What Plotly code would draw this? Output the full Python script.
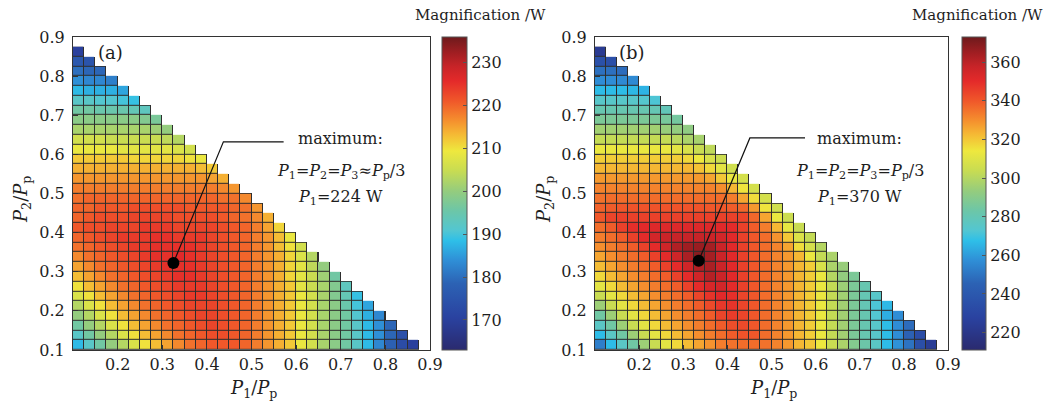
import plotly.graph_objects as go

# Cell centres (P/Pp) of the 0.025-wide grid along both axes
p_centers = [0.1125, 0.1375, 0.1625, 0.1875, 0.2125, 0.2375, 0.2625, 0.2875,
             0.3125, 0.3375, 0.3625, 0.3875, 0.4125, 0.4375, 0.4625, 0.4875,
             0.5125, 0.5375, 0.5625, 0.5875, 0.6125, 0.6375, 0.6625, 0.6875,
             0.7125, 0.7375, 0.7625, 0.7875, 0.8125, 0.8375, 0.8625]

x_ticks = [0.2, 0.3, 0.4, 0.5, 0.6, 0.7, 0.8, 0.9]
y_ticks = [0.1, 0.2, 0.3, 0.4, 0.5, 0.6, 0.7, 0.8, 0.9]

# Magnification (W), one list per P2 row (bottom to top), starting at P1 = 0.1125
mag_a = [
    [188, 192, 196, 200, 203, 207, 210, 213, 215, 217, 219, 220, 221, 221, 221, 220, 218, 216, 214, 212, 209, 206, 202, 199, 196, 192, 188, 183, 178, 173, 170],
    [192, 196, 200, 203, 207, 210, 213, 215, 217, 219, 220, 221, 222, 222, 221, 220, 218, 216, 214, 212, 209, 206, 202, 199, 196, 192, 188, 184, 179, 174],
    [196, 200, 203, 207, 210, 213, 215, 217, 219, 220, 221, 222, 223, 222, 221, 220, 218, 216, 214, 212, 209, 206, 202, 199, 196, 192, 188, 184, 179],
    [200, 203, 207, 210, 213, 215, 217, 219, 220, 221, 222, 223, 223, 222, 221, 220, 218, 216, 214, 212, 209, 206, 202, 199, 196, 191, 187, 183],
    [203, 207, 210, 213, 215, 217, 219, 220, 221, 222, 223, 223, 223, 222, 221, 220, 218, 216, 214, 212, 209, 206, 202, 199, 195, 190, 186],
    [207, 210, 213, 215, 217, 219, 220, 221, 222, 223, 224, 224, 223, 222, 221, 220, 218, 216, 214, 212, 209, 206, 202, 198, 194, 189],
    [210, 213, 215, 217, 219, 220, 221, 222, 223, 224, 224, 224, 223, 222, 221, 220, 218, 216, 214, 212, 208, 205, 202, 198, 193],
    [213, 215, 217, 219, 220, 221, 222, 223, 224, 225, 225, 224, 223, 222, 221, 220, 218, 216, 214, 211, 208, 205, 201, 196],
    [215, 217, 219, 220, 221, 222, 223, 224, 225, 225, 225, 224, 223, 222, 221, 220, 218, 216, 214, 211, 208, 204, 200],
    [217, 219, 220, 221, 222, 223, 224, 225, 225, 226, 225, 224, 223, 222, 221, 220, 218, 216, 214, 211, 207, 203],
    [219, 220, 221, 222, 223, 224, 224, 225, 225, 225, 225, 224, 223, 222, 221, 220, 218, 216, 213, 210, 206],
    [220, 221, 222, 223, 224, 224, 224, 225, 225, 224, 224, 224, 223, 222, 221, 220, 218, 216, 213, 209],
    [221, 222, 222, 223, 223, 223, 224, 224, 224, 223, 223, 223, 223, 222, 221, 220, 218, 215, 211],
    [220, 221, 222, 222, 222, 223, 223, 223, 223, 222, 222, 222, 222, 221, 220, 219, 217, 214],
    [220, 220, 221, 221, 221, 222, 222, 222, 222, 222, 221, 221, 221, 221, 220, 219, 216],
    [219, 220, 220, 220, 220, 220, 220, 220, 220, 220, 220, 220, 220, 219, 219, 217],
    [218, 218, 218, 218, 218, 218, 218, 218, 218, 218, 218, 218, 218, 217, 216],
    [216, 216, 216, 216, 216, 216, 216, 216, 216, 216, 216, 216, 215, 214],
    [214, 214, 214, 214, 214, 214, 214, 214, 214, 214, 214, 213, 212],
    [212, 212, 212, 212, 212, 211, 211, 211, 211, 211, 210, 209],
    [209, 209, 209, 209, 208, 208, 208, 208, 208, 207, 206],
    [206, 206, 206, 205, 205, 205, 205, 205, 204, 203],
    [202, 202, 202, 202, 202, 202, 202, 201, 200],
    [199, 199, 199, 199, 199, 199, 198, 197],
    [196, 196, 195, 195, 195, 194, 193],
    [192, 192, 191, 191, 190, 189],
    [188, 187, 187, 187, 186],
    [184, 183, 183, 182],
    [180, 179, 179],
    [176, 175],
    [170],
]

mag_b = [
    [253, 267, 276, 284, 295, 304, 311, 317, 322, 326, 329, 333, 335, 336, 336, 335, 332, 328, 323, 320, 314, 304, 298, 289, 283, 276, 267, 258, 250, 235, 224],
    [267, 276, 284, 295, 304, 311, 317, 322, 326, 330, 333, 336, 339, 341, 340, 336, 332, 328, 323, 319, 313, 303, 296, 287, 281, 275, 267, 257, 245, 234],
    [276, 284, 295, 304, 311, 317, 322, 326, 330, 333, 336, 339, 342, 343, 340, 336, 332, 328, 323, 319, 313, 303, 296, 287, 281, 275, 267, 257, 248],
    [284, 295, 304, 311, 317, 322, 326, 330, 333, 336, 339, 344, 346, 344, 340, 336, 332, 328, 323, 319, 313, 303, 296, 287, 281, 273, 264, 257],
    [295, 304, 311, 317, 322, 326, 330, 333, 336, 339, 343, 347, 348, 344, 340, 336, 332, 328, 323, 319, 313, 303, 296, 287, 280, 272, 266],
    [304, 311, 317, 322, 326, 330, 333, 336, 339, 344, 348, 351, 349, 344, 340, 336, 332, 328, 323, 319, 313, 303, 296, 287, 280, 275],
    [311, 317, 322, 326, 330, 333, 336, 339, 345, 350, 354, 355, 350, 345, 340, 336, 332, 328, 323, 319, 313, 303, 295, 287, 281],
    [317, 322, 326, 330, 333, 336, 339, 345, 350, 356, 361, 357, 351, 345, 340, 336, 332, 328, 323, 319, 313, 300, 293, 287],
    [322, 326, 330, 333, 336, 339, 345, 350, 356, 362, 363, 357, 351, 345, 340, 336, 332, 328, 323, 319, 308, 298, 294],
    [326, 330, 333, 336, 339, 345, 350, 356, 363, 369, 364, 357, 351, 345, 340, 336, 332, 328, 323, 313, 303, 298],
    [330, 333, 336, 339, 345, 350, 356, 362, 365, 366, 364, 357, 351, 345, 340, 336, 332, 326, 316, 307, 300],
    [333, 336, 339, 345, 350, 355, 357, 358, 358, 358, 357, 355, 351, 345, 340, 336, 329, 320, 309, 303],
    [336, 339, 345, 349, 351, 352, 352, 352, 352, 352, 352, 351, 350, 345, 339, 333, 323, 312, 304],
    [340, 344, 345, 345, 345, 345, 345, 345, 345, 345, 345, 345, 345, 344, 337, 326, 313, 305],
    [338, 339, 340, 341, 341, 341, 341, 341, 341, 341, 340, 340, 339, 337, 328, 315, 306],
    [335, 336, 336, 336, 336, 336, 336, 336, 336, 336, 336, 336, 333, 326, 316, 307],
    [332, 332, 332, 332, 332, 332, 332, 332, 332, 332, 332, 330, 323, 315, 307],
    [328, 328, 328, 328, 328, 328, 328, 328, 328, 328, 326, 320, 313, 307],
    [323, 323, 323, 323, 323, 323, 323, 323, 323, 321, 317, 311, 306],
    [319, 319, 319, 319, 319, 319, 319, 319, 317, 314, 308, 305],
    [313, 313, 313, 313, 313, 313, 313, 311, 308, 304, 302],
    [303, 303, 303, 303, 303, 303, 303, 301, 298, 297],
    [296, 296, 296, 296, 296, 296, 294, 293, 292],
    [287, 287, 287, 287, 287, 287, 286, 285],
    [281, 281, 281, 281, 281, 280, 279],
    [275, 275, 275, 275, 274, 272],
    [267, 267, 267, 266, 265],
    [257, 257, 256, 256],
    [249, 249, 248],
    [236, 235],
    [223],
]

cbar_ticks_a = [170, 180, 190, 200, 210, 220, 230]
cbar_ticks_b = [220, 240, 260, 280, 300, 320, 340, 360]

# Location of the maximum (P1/Pp, P2/Pp)
max_a = (0.325, 0.3225)
max_b = (0.335, 0.328)

W, H = 1047, 404
FONT = "DejaVu Serif"
INK = "#1e1e1e"
FRAME = "#333"

colorscale = [
    [0.000, "#2a2a6e"], [0.103, "#2a42a0"], [0.212, "#2c62b4"], [0.285, "#2f8ed6"],
    [0.349, "#2ebfe8"], [0.381, "#52c6d2"], [0.444, "#6cc6a8"], [0.507, "#94cc7e"],
    [0.573, "#c8dc52"], [0.636, "#eee83e"], [0.690, "#f5b834"], [0.732, "#f5902e"],
    [0.795, "#f0582a"], [0.859, "#e42a2a"], [0.905, "#c82428"], [0.950, "#a01e22"],
    [1.000, "#6e1a1c"],
]


def to_grid(rows):
    n = len(p_centers)
    z = [[None] * n for _ in range(n)]
    for j, row in enumerate(rows):
        for i, v in enumerate(row):
            z[j][i] = v
    return z


def mask_of(rows):
    n = len(p_centers)
    z = [[None] * n for _ in range(n)]
    for j, row in enumerate(rows):
        for i in range(len(row)):
            z[j][i] = 1
    return z


def px_x(px):
    return px / W


def px_y(py):
    return 1 - py / H


panels = [
    dict(rows=mag_a, xa="x", ya="y", zmin=163, zmax=236, ticks=cbar_ticks_a,
         cb_x=442, cb_w=25, dom=(73, 430), peak=max_a, elbow=(0.437, 0.632),
         end=(0.572, 0.632), txt_x=0.70,
         lines=["maximum:",
                "<i>P</i><sub>1</sub>=<i>P</i><sub>2</sub>=<i>P</i><sub>3</sub>≈<i>P</i><sub>p</sub>/3",
                "<i>P</i><sub>1</sub>=224 W"],
         tag="(a)", cb_title=(480, "center"), ytitle_x=22),
    dict(rows=mag_b, xa="x2", ya="y2", zmin=211, zmax=373, ticks=cbar_ticks_b,
         cb_x=962, cb_w=24, dom=(595, 948), peak=max_b, elbow=(0.451, 0.642),
         end=(0.576, 0.642), txt_x=0.70,
         lines=["maximum:",
                "<i>P</i><sub>1</sub>=<i>P</i><sub>2</sub>=<i>P</i><sub>3</sub>=<i>P</i><sub>p</sub>/3",
                "<i>P</i><sub>1</sub>=370 W"],
         tag="(b)", cb_title=(1045, "right"), ytitle_x=545),
]

fig = go.Figure()
annotations = []
plot_top, plot_bot = 37, 350

for p in panels:
    # dark underlay that shows through the cell gaps as grid lines
    fig.add_trace(go.Heatmap(
        x=p_centers, y=p_centers, z=mask_of(p["rows"]),
        colorscale=[[0, "#2e2e2e"], [1, "#2e2e2e"]], showscale=False,
        hoverinfo="skip", xaxis=p["xa"], yaxis=p["ya"]))
    fig.add_trace(go.Heatmap(
        x=p_centers, y=p_centers, z=to_grid(p["rows"]),
        colorscale=colorscale, zmin=p["zmin"], zmax=p["zmax"],
        xgap=1, ygap=1, xaxis=p["xa"], yaxis=p["ya"],
        colorbar=dict(
            x=px_x(p["cb_x"]), xanchor="left", xpad=0,
            y=px_y((plot_top + plot_bot) / 2), yanchor="middle", ypad=0,
            len=(plot_bot - plot_top) / H, lenmode="fraction",
            thickness=p["cb_w"], thicknessmode="pixels",
            outlinewidth=1, outlinecolor="#555",
            tickvals=p["ticks"], ticks="inside", ticklen=4, tickcolor="#555",
            tickfont=dict(family=FONT, size=16, color=INK),
        )))
    # leader line from the maximum to the label
    fig.add_trace(go.Scatter(
        x=[p["peak"][0], p["elbow"][0], p["end"][0]],
        y=[p["peak"][1], p["elbow"][1], p["end"][1]],
        mode="lines", line=dict(color="#111", width=1.2),
        hoverinfo="skip", showlegend=False, xaxis=p["xa"], yaxis=p["ya"]))
    fig.add_trace(go.Scatter(
        x=[p["peak"][0]], y=[p["peak"][1]], mode="markers",
        marker=dict(color="#000", size=12), hoverinfo="skip",
        showlegend=False, xaxis=p["xa"], yaxis=p["ya"]))

    for txt, yy in zip(p["lines"], [0.640, 0.555, 0.490]):
        annotations.append(dict(
            x=p["txt_x"], y=yy, xref=p["xa"], yref=p["ya"], text=txt,
            showarrow=False, xanchor="center", yanchor="middle",
            font=dict(family=FONT, size=16, color=INK)))
    annotations.append(dict(
        x=0.183, y=0.86, xref=p["xa"], yref=p["ya"], text=p["tag"],
        showarrow=False, xanchor="center", yanchor="middle",
        font=dict(family=FONT, size=18, color=INK)))
    # colorbar title
    annotations.append(dict(
        x=px_x(p["cb_title"][0]), y=px_y(15), xref="paper", yref="paper",
        text="Magnification /W", showarrow=False, xanchor=p["cb_title"][1],
        yanchor="middle", font=dict(family=FONT, size=15, color=INK)))
    # axis titles
    cx = (p["dom"][0] + p["dom"][1]) / 2
    annotations.append(dict(
        x=px_x(cx + 2), y=px_y(389), xref="paper", yref="paper",
        text="<i>P</i><sub>1</sub>/<i>P</i><sub>p</sub>", showarrow=False,
        xanchor="center", yanchor="middle",
        font=dict(family=FONT, size=18, color=INK)))
    annotations.append(dict(
        x=px_x(p["ytitle_x"]), y=px_y(200), xref="paper", yref="paper",
        text="<i>P</i><sub>2</sub>/<i>P</i><sub>p</sub>", showarrow=False,
        textangle=-90, xanchor="center", yanchor="middle",
        font=dict(family=FONT, size=18, color=INK)))

axis_common = dict(
    showgrid=False, zeroline=False, showline=True, linecolor=FRAME,
    linewidth=1, mirror=True, ticks="inside", ticklen=5, tickcolor=FRAME,
    tickfont=dict(family=FONT, size=16, color=INK), range=[0.1, 0.9],
    automargin=False,
)

fig.update_layout(
    width=W, height=H, autosize=False,
    margin=dict(l=0, r=0, t=0, b=0, autoexpand=False),
    paper_bgcolor="white", plot_bgcolor="white",
    showlegend=False,
    xaxis=dict(axis_common, domain=[px_x(73), px_x(430)], anchor="y",
               tickvals=x_ticks),
    yaxis=dict(axis_common, domain=[px_y(plot_bot), px_y(plot_top)], anchor="x",
               tickvals=y_ticks, ticklabelstandoff=4),
    xaxis2=dict(axis_common, domain=[px_x(595), px_x(948)], anchor="y2",
                tickvals=x_ticks),
    yaxis2=dict(axis_common, domain=[px_y(plot_bot), px_y(plot_top)], anchor="x2",
                tickvals=y_ticks, ticklabelstandoff=4),
    annotations=annotations,
)

fig.write_html("out.html")
